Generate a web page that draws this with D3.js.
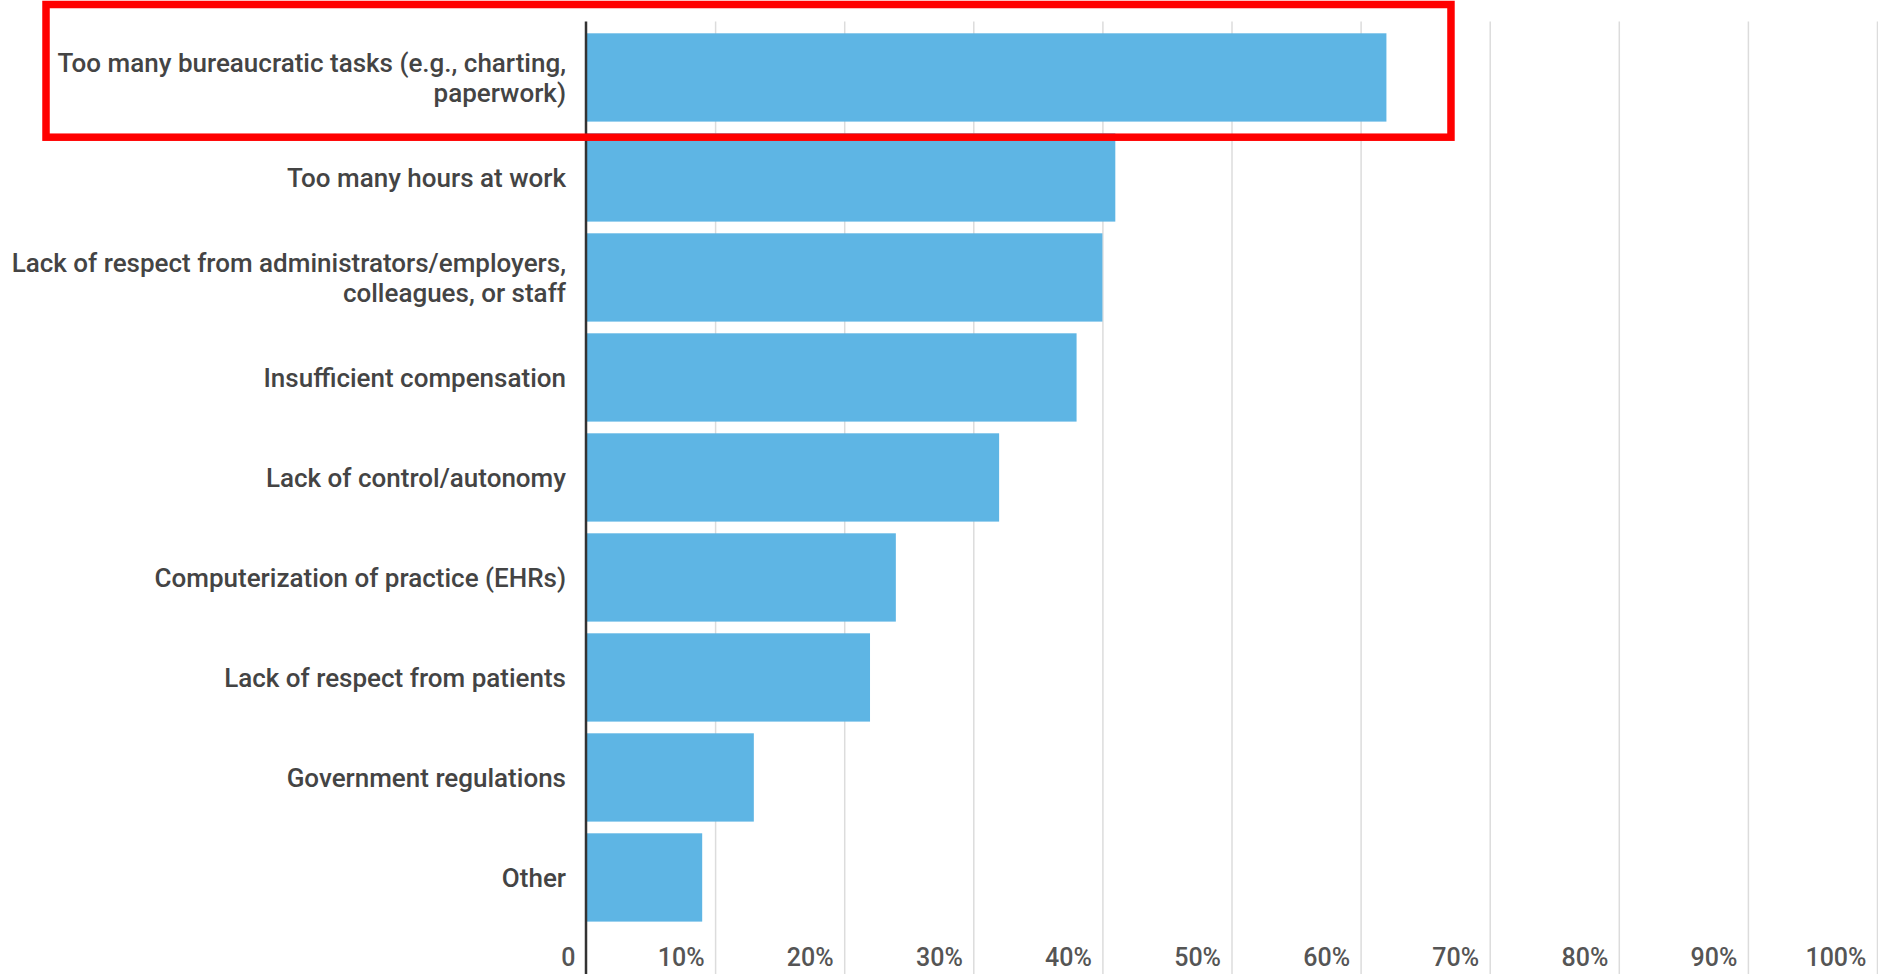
<!DOCTYPE html>
<html>
<head>
<meta charset="utf-8">
<script src="https://cdn.jsdelivr.net/npm/d3@7"></script>
<style>
  html, body { margin: 0; padding: 0; background: #fff; }
  svg { display: block; }
</style>
</head>
<body>
<svg id="chart" width="1878" height="974"></svg>
<script>
const categories = [
  "Too many bureaucratic tasks (e.g., charting,\npaperwork)",
  "Too many hours at work",
  "Lack of respect from administrators/employers,\ncolleagues, or staff",
  "Insufficient compensation",
  "Lack of control/autonomy",
  "Computerization of practice (EHRs)",
  "Lack of respect from patients",
  "Government regulations",
  "Other"
];
const values = [0.62, 0.41, 0.40, 0.38, 0.32, 0.24, 0.22, 0.13, 0.09];
const tickValues = [0, 0.1, 0.2, 0.3, 0.4, 0.5, 0.6, 0.7, 0.8, 0.9, 1.0];
const tickLabels = ["0", "10%", "20%", "30%", "40%", "50%", "60%", "70%", "80%", "90%", "100%"];
const highlighted = 0;

const W = 1878, H = 974;
const axisX = 586, plotTop = 21.5;
const svg = d3.select("#chart");
const FONT = "Roboto, 'Noto Sans', sans-serif";

const x = d3.scaleLinear().domain([0, 1]).range([axisX, 1877]);
const y = d3.scaleBand().domain(categories).range([27.45, 927.45])
  .paddingInner(0.117).paddingOuter(0.0585);

// gridlines + tick labels
const xAxis = d3.axisBottom(x)
  .tickValues(tickValues)
  .tickFormat((d, i) => tickLabels[i])
  .tickSize(-(H - plotTop))
  .tickSizeOuter(0);

const gx = svg.append("g").attr("transform", `translate(0,${H})`).call(xAxis);
gx.select(".domain").remove();
gx.selectAll(".tick line")
  .attr("stroke", "#dcdcdc")
  .attr("stroke-width", 1.5)
  .attr("opacity", (d) => d === 0 ? 0 : 1);
gx.selectAll(".tick text")
  .attr("y", -8)
  .attr("x", -11)
  .attr("dy", null)
  .attr("text-anchor", "end")
  .attr("fill", "#555")
  .style("font-family", FONT)
  .style("font-size", "25px")
  .style("font-weight", 500);

// bars
svg.append("g").selectAll("rect")
  .data(categories)
  .join("rect")
  .attr("x", x(0))
  .attr("y", (d) => y(d))
  .attr("width", (d, i) => x(values[i]) - x(0))
  .attr("height", y.bandwidth())
  .attr("fill", "#5eb5e4");

// y axis line
svg.append("line")
  .attr("x1", axisX).attr("x2", axisX)
  .attr("y1", plotTop).attr("y2", H)
  .attr("stroke", "#333").attr("stroke-width", 2.5);

// category labels
const lineH = 30;
const labels = svg.append("g").selectAll("text")
  .data(categories)
  .join("text")
  .attr("text-anchor", "end")
  .attr("fill", "#444")
  .style("font-family", FONT)
  .style("font-size", "26px")
  .style("font-weight", 500);

labels.each(function (d) {
  const lines = d.split("\n");
  const cy = y(d) + y.bandwidth() / 2;
  const t = d3.select(this);
  lines.forEach((ln, j) => {
    t.append("tspan")
      .attr("x", axisX - 20)
      .attr("y", cy + (j - (lines.length - 1) / 2) * lineH)
      .attr("dy", "0.35em")
      .text(ln);
  });
});

// highlight box around first category
const hb = categories[highlighted];
svg.append("rect")
  .attr("x", 46)
  .attr("y", y(hb) - 28.8)
  .attr("width", x(0.67) - 46)
  .attr("height", y.bandwidth() + 28.8 + 15.6)
  .attr("fill", "none")
  .attr("stroke", "#ff0000")
  .attr("stroke-width", 7.5);
</script>
</body>
</html>
